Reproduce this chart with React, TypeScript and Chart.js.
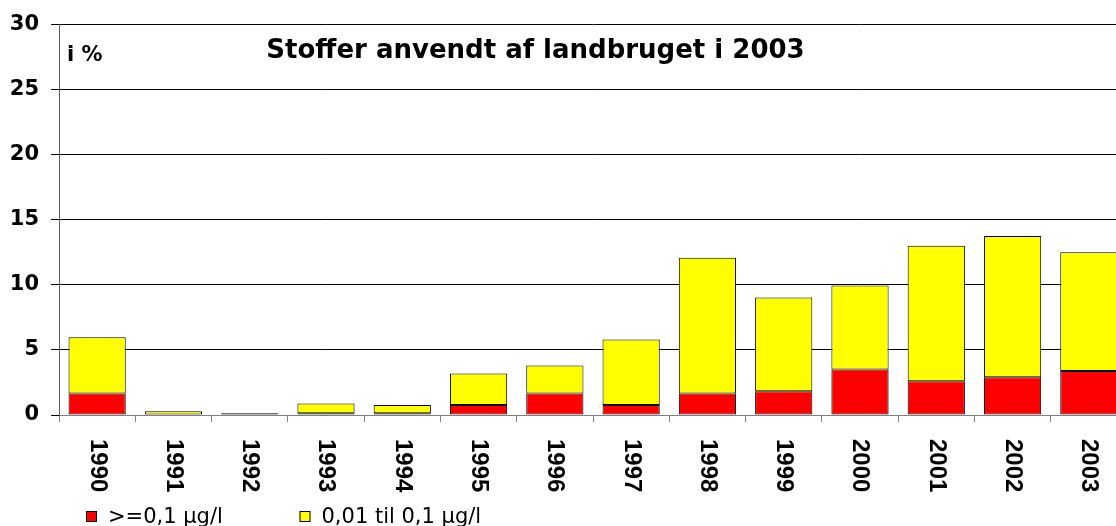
import React, { useEffect, useRef } from "react";
import { Chart, registerables } from "chart.js";

Chart.register(...registerables);

const years = ["1990", "1991", "1992", "1993", "1994", "1995", "1996", "1997", "1998", "1999", "2000", "2001", "2002", "2003"];
const above01 = [1.66, 0, 0, 0.13, 0.13, 0.77, 1.66, 0.77, 1.66, 1.83, 3.5, 2.6, 2.9, 3.39];
const between001and01 = [4.31, 0.28, 0.13, 0.76, 0.64, 2.42, 2.14, 5.04, 10.42, 7.19, 6.45, 10.4, 10.86, 9.11];
const seriesLabels = [">=0,1 µg/l", "0,01 til 0,1 µg/l"];
const seriesColors = ["#ff0000", "#ffff00"];
const yMin = 0;
const yMax = 30;
const yStep = 5;
const titleText = "Stoffer anvendt af landbruget i 2003";
const unitText = "i %";

const overlay = {
  id: "overlay",
  afterDraw(chart: any) {
    const ctx = chart.ctx as CanvasRenderingContext2D;
    const xs = chart.scales.x;
    const area = chart.chartArea;
    ctx.save();
    ctx.fillStyle = "#000";
    // title
    ctx.font = 'bold 26px "DejaVu Sans"';
    ctx.textAlign = "center";
    ctx.textBaseline = "alphabetic";
    ctx.fillText(titleText, 535.5, 58);
    // unit
    ctx.font = 'bold 21px "DejaVu Sans"';
    ctx.textAlign = "left";
    ctx.fillText(unitText, 67, 61);
    // x labels rotated clockwise
    ctx.font = 'bold 24px "Liberation Sans"';
    ctx.textBaseline = "middle";
    ctx.textAlign = "left";
    years.forEach((y, i) => {
      const x = xs.getPixelForValue(i);
      ctx.save();
      ctx.translate(x, area.bottom + 24);
      ctx.rotate(Math.PI / 2);
      ctx.fillText(y, 0, 0);
      ctx.restore();
    });
    // legend
    const items = [
      { box: 86, text: 108 },
      { box: 299.5, text: 321.5 },
    ];
    ctx.font = '21px "DejaVu Sans"';
    ctx.textBaseline = "alphabetic";
    items.forEach((it, i) => {
      ctx.fillStyle = seriesColors[i];
      ctx.fillRect(it.box, 511, 11, 11);
      ctx.strokeStyle = "#000";
      ctx.lineWidth = 1;
      ctx.strokeRect(it.box + 0.5, 511.5, 10, 10);
      ctx.fillStyle = "#000";
      ctx.fillText(seriesLabels[i], it.text, 523);
    });
    ctx.restore();
  },
};

export default function App() {
  const ref = useRef<HTMLCanvasElement | null>(null);
  useEffect(() => {
    if (!ref.current) return;
    const chart = new Chart(ref.current, {
      type: "bar",
      data: {
        labels: years,
        datasets: [
          {
            label: seriesLabels[0],
            data: above01,
            backgroundColor: seriesColors[0],
            borderColor: "#000",
            borderWidth: 1,
            borderSkipped: false,
            categoryPercentage: 1,
            barPercentage: 0.75,
          },
          {
            label: seriesLabels[1],
            data: between001and01,
            backgroundColor: seriesColors[1],
            borderColor: "#000",
            borderWidth: 1,
            borderSkipped: false,
            categoryPercentage: 1,
            barPercentage: 0.75,
          },
        ],
      },
      options: {
        animation: false,
        responsive: false,
        devicePixelRatio: 1,
        layout: { padding: { top: 23, right: 13, bottom: 0, left: 0 } },
        plugins: { legend: { display: false }, title: { display: false }, tooltip: { enabled: false } },
        scales: {
          x: {
            stacked: true,
            offset: true,
            grid: { display: true, drawOnChartArea: false, drawTicks: true, tickLength: 7, color: "#808080", offset: true },
            border: { display: true, color: "#808080", width: 1 },
            ticks: { display: false },
            afterFit(scale: any) {
              scale.height = 111;
            },
          },
          y: {
            stacked: true,
            min: yMin,
            max: yMax,
            grid: { color: "#000", lineWidth: 1, tickLength: 8, drawTicks: true },
            border: { display: true, color: "#606060", width: 1 },
            ticks: {
              stepSize: yStep,
              padding: 12,
              color: "#000",
              font: { family: '"DejaVu Sans"', size: 21, weight: "bold" },
            },
            afterFit(scale: any) {
              scale.width = 59;
            },
          },
        },
      },
      plugins: [overlay],
    });
    return () => chart.destroy();
  }, []);
  return (
    <div style={{ position: "absolute", left: 0, top: 0, width: 1116, height: 526, overflow: "hidden", background: "#fff" }}>
      <canvas ref={ref} width={1140} height={526} style={{ display: "block" }} />
    </div>
  );
}
